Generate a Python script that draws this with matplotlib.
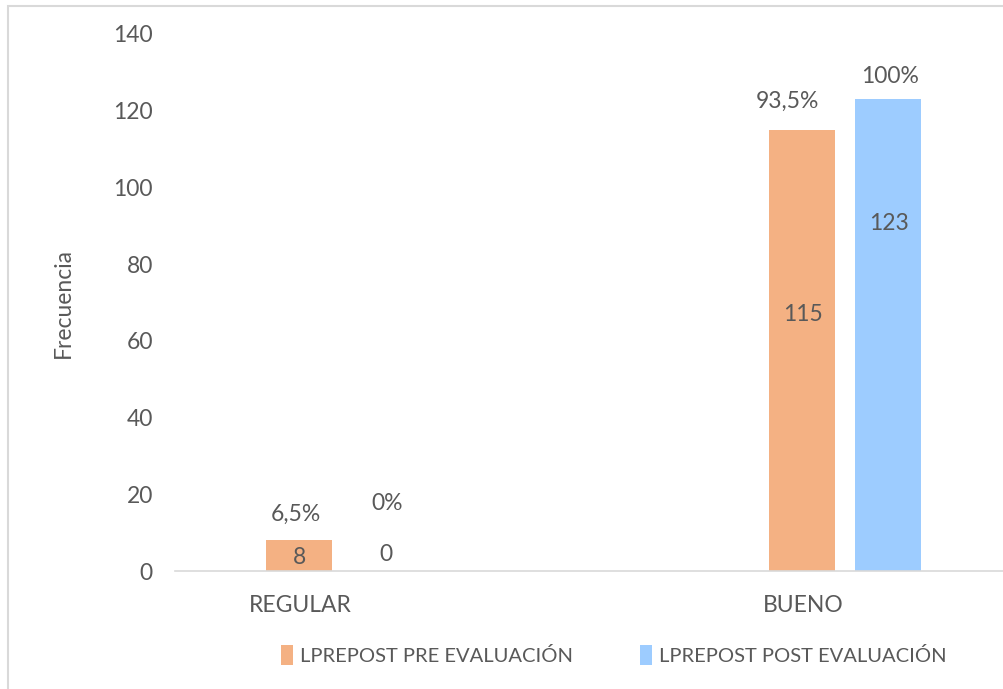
import matplotlib
matplotlib.use("Agg")
import matplotlib.pyplot as plt
from matplotlib.patches import Rectangle
import numpy as np

categorias = ["REGULAR", "BUENO"]
series = ["LPREPOST PRE EVALUACIÓN", "LPREPOST POST EVALUACIÓN"]
pre = [8, 115]
post = [0, 123]
pct_pre = ["6,5%", "93,5%"]
pct_post = ["0%", "100%"]

# posiciones de las etiquetas (en unidades de datos)
val_y_pre = [3.6, 67]
val_y_post = [4.4, 90.5]
pct_y_pre = [14.9, 122.5]
pct_y_post = [17.7, 128.8]

c_pre = "#F4B183"
c_post = "#9DCCFF"
gris = "#595959"

plt.rcParams["font.family"] = ["Lato", "DejaVu Sans"]

fig = plt.figure(figsize=(10.04, 6.89), dpi=100)
fig.patches.append(Rectangle((8 / 1004, -0.1), 1.2, 0.1 + 1 - 6 / 689,
                             transform=fig.transFigure, fill=False,
                             edgecolor="#D9D9D9", linewidth=1.5))

ax = fig.add_axes([175 / 1004, 1 - 571 / 689, 829 / 1004, (571 - 34) / 689])

x = np.arange(len(categorias))
w = 0.131
off = 0.171
b1 = ax.bar(x - 0.002, pre, w, color=c_pre, label=series[0])
b2 = ax.bar(x + off - 0.002, post, w, color=c_post, label=series[1])

fs = 16.5
for i in range(len(categorias)):
    ax.text(x[i], val_y_pre[i], str(pre[i]), ha="center", va="center", fontsize=fs, color=gris)
    ax.text(x[i] + off, val_y_post[i], str(post[i]), ha="center", va="center", fontsize=fs, color=gris)
    ax.text(x[i] - (0.03 if i == 1 else 0.008), pct_y_pre[i], pct_pre[i], ha="center", va="center", fontsize=fs, color=gris)
    ax.text(x[i] + off + 0.002, pct_y_post[i], pct_post[i], ha="center", va="center", fontsize=fs, color=gris)

ax.set_xlim(-125 / 503, 704 / 503)
ax.set_ylim(0, 140)
ax.set_yticks(range(0, 141, 20))
ax.set_xticks(x)
ax.set_xticklabels(categorias)
ax.tick_params(axis="both", length=0, labelsize=fs, colors=gris)
ax.tick_params(axis="y", pad=16)
ax.tick_params(axis="x", pad=17)
for s in ["top", "right", "left"]:
    ax.spines[s].set_visible(False)
ax.spines["bottom"].set_color("#D9D9D9")
ax.spines["bottom"].set_linewidth(1.2)

ax.set_ylabel("Frecuencia", fontsize=fs, color=gris, labelpad=28)

fig.legend(handles=[b1, b2], loc="center", bbox_to_anchor=(614 / 1004, 1 - 655 / 689),
           ncol=2, frameon=False, fontsize=14.5, labelcolor=gris,
           handlelength=0.6, handleheight=1.1, handletextpad=0.35, columnspacing=3.3)

fig.savefig("out.png", dpi=100)
